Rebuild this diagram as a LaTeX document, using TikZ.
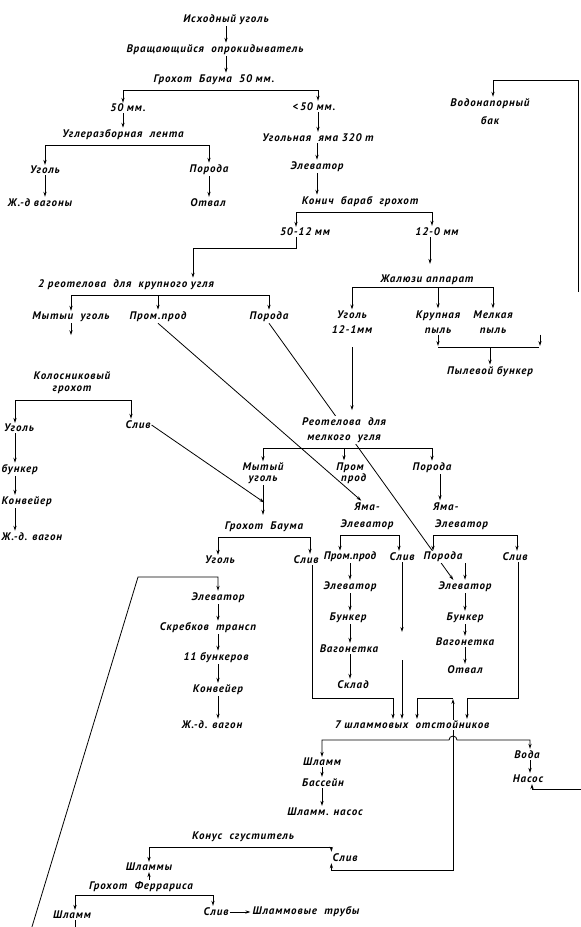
\documentclass[tikz,border=0pt]{standalone}
\usepackage{fontspec}
\setmainfont{PT Sans}
\usetikzlibrary{arrows.meta,calc,backgrounds}
\begin{document}
\begin{tikzpicture}[x=1pt,y=-1pt,
  >={Stealth[length=5pt,width=3.2pt]},
  lbl/.style={font=\fontsize{11}{13}\selectfont\bfseries\itshape\addfontfeature{LetterSpace=8}, inner sep=1pt, fill=white, align=center},
  bare/.style={lbl, fill=none},
  wire/.style={line width=0.8pt, shorten >=1pt},
  ]
\useasboundingbox (0,0) rectangle (581,927);
\clip (0,0) rectangle (581,927);

% ---- upper part: raw coal, screening
\node[lbl] (n1) at (226,20) {Исходный уголь};
\node[lbl] (n2) at (215,50) {Вращающийся\ \ опрокидыватель};
\node[lbl] (n3) at (214,80) {Грохот\ \ Баума\ \ 50 мм.};
\node[lbl] (n4) at (128,108) {50 мм.};
\node[lbl] (n5) at (314,107) {<\,50 мм.};
\node[lbl] (n6) at (123,135) {Углеразборная\ \ лента};
\node[lbl] (n7) at (45,170) {Уголь};
\node[lbl] (n8) at (40,203) {Ж.-д вагоны};
\node[lbl] (n9) at (209,170) {Порода};
\node[lbl] (n10) at (208,203) {Отвал};
\node[lbl] (n11) at (318,138) {Угольная\ \ яма 320 т};
\node[lbl] (n12) at (317,167) {Элеватор};
\node[lbl] (n13) at (360,202) {Конич\ \ бараб\ \ грохот};
\node[lbl] (n14) at (305,232) {50-12 мм};
\node[lbl] (n15) at (437,232) {12-0 мм};
\node[lbl] (n16) at (126,285) {2 реотелова\ \ для\ \ крупного угля};
\node[lbl] (n17) at (71,317) {Мытыи\ \ уголь};
\node[lbl] (n18) at (158,317) {Пром.прод};
\node[lbl] (n19) at (269,317) {Порода};
\node[lbl] (n20) at (427,280) {Жалюзи аппарат};
\node[lbl] (n21) at (352,322) {Уголь\\[2pt]12-1мм};
\node[lbl] (n22) at (438,322) {Крупная\\[2pt]пыль};
\node[lbl] (n23) at (493,322) {Мелкая\\[2pt]пыль};
\node[lbl] (n24) at (490,372) {Пылевой бункер};
\node[lbl] (n25) at (490,112) {Водонапорный\\[5pt]бак};

% ---- bar screen branch (left edge)
\node[lbl] (n26) at (72,383) {Колосниковый\\[-1pt]грохот};
\node[lbl,anchor=west] (n27) at (3,428) {Уголь};
\node[lbl,anchor=west] (n28) at (0.5,470) {бункер};
\node[lbl,anchor=west] (n29) at (0.5,502) {Конвейер};
\node[lbl,anchor=west] (n30) at (0.5,537) {Ж.-д. вагон};
\node[lbl] (n31) at (138,425) {Слив};

% ---- fine coal troughs
\node[lbl] (n32) at (344,430) {Реотелова\ \ для\\[2pt]мелкого\ \ угля};
\node[lbl] (n33) at (263,473) {Мытый\\[-2pt]уголь};
\node[bare] (n34) at (350,473) {Пром\\[-2pt]\ \ прод};
\node[lbl] (n35) at (432,468) {Порода};
\node[lbl] (n36) at (367,516) {Яма-\\[4pt]Элеватор};
\node[lbl,anchor=west,align=left] (n37) at (432,516) {Яма-\\[4pt]\,Элеватор};
\node[lbl] (n38) at (264,527) {Грохот\ \ Баума};
\node[lbl] (n39) at (220,560) {Уголь};
\node[lbl] (n40) at (306,560) {Слив};
\node[lbl,font=\fontsize{11}{13}\selectfont\bfseries\itshape\addfontfeature{LetterSpace=3}] (n41) at (350,557) {Пром.прод};
\node[lbl] (n42) at (402,557) {Слив};
\node[lbl] (n43) at (443,557) {Порода};
\node[lbl] (n44) at (515,557) {Слив};

% ---- coal loading column
\node[lbl] (n45) at (218,598) {Элеватор};
\node[lbl] (n46) at (208,628) {Скребков\ \ трансп};
\node[lbl] (n47) at (216,658) {11 бункеров};
\node[lbl] (n48) at (218,690) {Конвейер};
\node[lbl] (n49) at (212,725) {Ж.-д. вагон};

% ---- middlings and refuse columns
\node[lbl] (n50) at (350,587) {Элеватор};
\node[lbl] (n51) at (348,618) {Бункер};
\node[lbl] (n52) at (349,649) {Вагонетка};
\node[lbl] (n53) at (353,685) {Склад};
\node[lbl] (n54) at (465,587) {Элеватор};
\node[lbl] (n55) at (465,618) {Бункер};
\node[lbl] (n56) at (465,642) {Вагонетка};
\node[lbl] (n57) at (465,670) {Отвал};

% ---- slurry settling
\node[lbl] (n58) at (412,725) {7 шламмовых\ \ отстойников};
\node[lbl] (n59) at (322,762) {Шламм};
\node[lbl] (n60) at (323,783) {Бассейн};
\node[lbl] (n61) at (325,812) {Шламм. насос};
\node[lbl] (n62) at (527,755) {Вода};
\node[lbl] (n63) at (528,779) {Насос};
\node[lbl] (n64) at (243,837) {Конус\ \ сгуститель};
\node[lbl] (n65) at (345,858) {Слив};
\node[lbl] (n66) at (149,867) {Шламмы};
\node[lbl] (n67) at (141,887) {Грохот\ \ Феррариса};
\node[lbl] (n68) at (72,915) {Шламм};
\node[lbl] (n69) at (216,912) {Слив};
\node[lbl] (n70) at (306,912) {Шламмовые\ \ трубы};

\begin{pgfonlayer}{background}
\fill[white] (0,0) rectangle (581,927);

% bus levels and routing points
\coordinate (b3) at (0,90);
\coordinate (b6) at (0,145);
\coordinate (b13) at (0,212);
\coordinate (x14) at (296,0);
\coordinate (x15) at (432,0);
\coordinate (c16) at (193,248);
\coordinate (x20) at (430,0);
\coordinate (b16) at (0,295);
\coordinate (b20) at (0,287);
\coordinate (pb) at (540,347);
\coordinate (wtB) at (578,292);
\coordinate (wtT) at (578,80);
\coordinate (b26) at (0,400);
\coordinate (kx) at (15,0);
\coordinate (b32) at (0,448);
\coordinate (b36) at (0,535);
\coordinate (b38) at (0,537);
\coordinate (gbIn) at (265,503);
\coordinate (blA) at (29.5,935);
\coordinate (blB) at (138,577);
\coordinate (g1) at (393,698);
\coordinate (s2a) at (402,633);
\coordinate (s2b) at (402,660);
\coordinate (g3) at (467,698);
\coordinate (lpA) at (453,870);
\coordinate (lpB) at (453,698);
\coordinate (lpC) at (417,698);
\coordinate (b58) at (0,740);
\coordinate (x62) at (530,0);
\coordinate (nsR) at (585,789);
\coordinate (b64) at (0,847);
\coordinate (b67) at (0,895);
\coordinate (shOut) at (75,935);

% top chain
\draw[wire,->] (n1.south) -- (n1.south |- n2.north);
\draw[wire,->] (n1 |- n2.south) -- (n1 |- n3.north);
\draw[wire,<->] (n6 |- n4.north) -- (n6 |- b3) -- (n11 |- b3) -- (n11 |- n5.north);
\draw[wire,->] (n6 |- n4.south) -- (n6.north);
\draw[wire,<->] (n7.north) -- (n7 |- b6) -- (n9 |- b6) -- (n9.north);
\draw[wire,->] (n7.south) -- (n7.south |- n8.north);
\draw[wire,->] (n9.south) -- (n9.south |- n10.north);
\draw[wire,->] (n11 |- n5.south) -- (n11.north);
\draw[wire,->] (n12 |- n11.south) -- (n12.north);
\draw[wire,->] (n12.south) -- (n12.south |- n13.north);
\draw[wire,<->] (x14 |- n14.north) -- (x14 |- b13) -- (x15 |- b13) -- (x15 |- n15.north);
\draw[wire,->] (x14 |- n14.south) |- (c16) -- (c16 |- n16.north);
\draw[wire,->,shorten >=10pt] (x20 |- n15.south) -- (x20 |- n20.north);
\draw[wire,<->] (n17.north) -- (n17 |- b16) -- (n19 |- b16) -- (n19.north);
\draw[wire,->] (n18 |- b16) -- (n18.north);
\draw[wire,->] (n17.south) -- ++(0,13);

% louvre separator
\draw[wire,<->] (n21.north) -- (n21 |- b20) -- (n23 |- b20) -- (n23.north);
\draw[wire,->] (n22 |- b20) -- (n22.north);
\draw[wire,->] (n22.south) -- (n22.south |- pb);
\draw[wire,->] (n23.south -| pb) -- (pb);
\draw[wire] (n22.south |- pb) -- (pb);
\draw[wire,->] (n24.north |- pb) -- (n24.north);
\draw[wire,->,shorten >=6pt] (n21 |- pb) -- (n21 |- n32.north);

% water tank feed
\draw[wire,->] (wtB) -- (wtT) -| ($(n25.north)+(3,0)$);

% bar screen
\draw[wire,<->] (kx |- n27.north) -- (kx |- b26) -- ($(n31 |- b26)+(-7,0)$) -- ($(n31.north)+(-7,0)$);
\draw[wire,->] (kx |- n27.south) -- (kx |- n28.north);
\draw[wire,->] (kx |- n28.south) -- (kx |- n29.north);
\draw[wire,->] (kx |- n29.south) -- (kx |- n30.north);
\draw[wire,->] (n31.east) -- (gbIn);

% fine coal troughs
\draw[wire,<->] (n33.north) -- (n33 |- b32) -- (n35 |- b32) -- (n35.north);
\draw[wire,->] ($(n34.north |- b32)+(-6,0)$) -- ($(n34.north)+(-6,0)$);
\draw[wire,->,shorten >=6pt] (n33.south) -- (n33.south |- n38.north);
\draw[wire,->] ($(n35.south)+(8,0)$) -- ($(n35.south |- n37.north)+(8,0)$);
\draw[wire,->] (n18.south) -- ($(n36.north)+(-5,0)$);
\draw[wire,->] (n19.south) -- ($(n54.north west)!0.3!(n54.north east)$);

% Baum jig and pit elevators
\draw[wire,<->] ($(n39.north)+(-2,0)$) -- ($(n39 |- b38)+(-2,0)$) -- ($(n40 |- b38)+(4,0)$) -- ($(n40.north)+(4,0)$);
\draw[wire,<->] ($(n41.north)+(-10,0)$) -- ($(n41 |- b36)+(-10,0)$) -- ($(n42 |- b36)+(-3,0)$) -- ($(n42.north)+(-3,0)$);
\draw[wire,<->] ($(n43.north)+(-10,0)$) -- ($(n43 |- b36)+(-10,0)$) -- ($(n44 |- b36)+(2,0)$) -- ($(n44.north)+(2,0)$);

% coal loading
\draw[wire,->] (blA) -- (blB) -| (n45.north);
\draw[wire,->] (n45.south) -- (n45 |- n46.north);
\draw[wire,->] (n45 |- n46.south) -- (n45 |- n47.north);
\draw[wire,->] (n45 |- n47.south) -- (n45 |- n48.north);
\draw[wire,->] (n45 |- n48.south) -- (n45 |- n49.north);

% middlings
\draw[wire,->] (n41.south) -- (n41.south |- n50.north);
\draw[wire,->] (n41 |- n50.south) -- (n41 |- n51.north);
\draw[wire,->] (n41 |- n51.south) -- (n41 |- n52.north);
\draw[wire,->] (n41 |- n52.south) -- (n41 |- n53.north);

% refuse
\draw[wire,->] (n54.north |- n43.south) -- (n54.north);
\draw[wire,->] (n54.south) -- (n54.south |- n55.north);
\draw[wire,->] (n54 |- n55.south) -- (n54 |- n56.north);
\draw[wire,->] (n54 |- n56.south) -- (n54 |- n57.north);

% overflows to the settling tanks
\draw[wire,->] ($(n40.south)+(6,0)$) |- (g1) -- (g1 |- n58.north);
\draw[wire,->] (n42.south -| s2a) -- (s2a);
\draw[wire,->] (s2b) -- (s2b |- n58.north);
\draw[wire,->] ($(n44.south)+(3,0)$) |- (g3) -- (g3 |- n58.north);
\draw[wire,<->] (n65.south west) |- (lpA) -- (lpB);
\draw[wire,->] (lpB) -- (lpC) -- (lpC |- n58.north);

% settling tank outputs
\draw[wire,<->] (n59.north) -- (n59 |- b58) -- ($(lpA |- b58)+(-4,0)$)
   arc[start angle=180, end angle=0, radius=4pt] -- (x62 |- b58) -- (x62 |- n62.north);
\draw[wire,->] (n59.south) -- (n59.south |- n60.north);
\draw[wire,->] (n59 |- n60.south) -- (n59 |- n61.north);
\draw[wire,->] (x62 |- n62.south) -- (x62 |- n63.north);
\draw[wire,<-] ($(n63.south)+(4,0)$) |- (nsR);

% thickener and Ferraris screen
\draw[wire,<->] (n66.north) -- (n66 |- b64) -- (n65.north west |- b64) -- (n65.north west);
\draw[wire,<-] (n66.south) -- (n66.south |- n67.north);
\draw[wire,<->] ($(n68.north)+(3,0)$) -- ($(n68 |- b67)+(3,0)$) -- ($(n69 |- b67)+(-3,0)$) -- ($(n69.north)+(-3,0)$);
\draw[wire,->] (n69.east) -- (n70.west);
\draw[wire,->] ($(n68.south)+(3,0)$) -- ($(n68.south |- shOut)+(3,0)$);
\end{pgfonlayer}
\end{tikzpicture}
\end{document}
